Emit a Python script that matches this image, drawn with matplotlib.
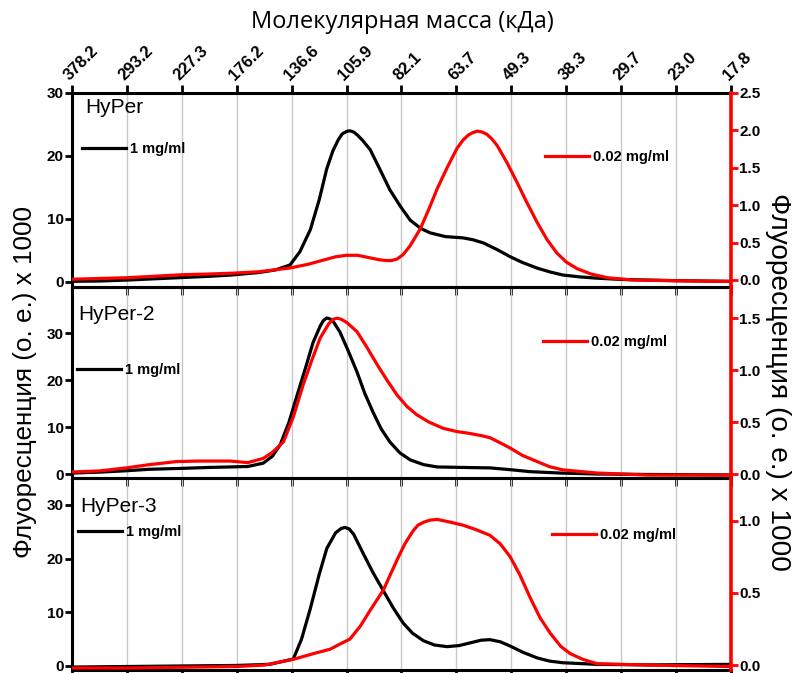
import matplotlib
matplotlib.use('Agg')
import matplotlib.pyplot as plt

plt.rcParams['font.family'] = ['Liberation Sans', 'DejaVu Sans']
plt.rcParams['font.weight'] = 'bold'

# top axis: molecular mass (kDa) at evenly spaced positions 0..12
mass_labels = ['378.2', '293.2', '227.3', '176.2', '136.6', '105.9', '82.1',
               '63.7', '49.3', '38.3', '29.7', '23.0', '17.8']

panel_names = ['HyPer', 'HyPer-2', 'HyPer-3']

# HyPer, 1 mg/ml (left axis)
hyper_black_x = [0.0, 0.5, 1.0, 1.5, 2.0, 2.5, 2.9, 3.4, 3.7, 3.97, 4.15, 4.34, 4.5, 4.64,
                 4.75, 4.85, 4.92, 5.0, 5.06, 5.13, 5.2, 5.3, 5.43, 5.6, 5.79, 5.98, 6.16,
                 6.35, 6.52, 6.8, 7.12, 7.3, 7.49, 7.75, 7.98, 8.2, 8.47, 8.7, 8.94, 9.25,
                 9.56, 10.0, 10.5, 11.0, 11.5, 12.0]
hyper_black = [0.1, 0.15, 0.3, 0.5, 0.7, 0.9, 1.1, 1.5, 1.9, 2.7, 4.8, 8.3, 13.0, 18.0,
               20.8, 22.6, 23.5, 23.9, 24.0, 23.8, 23.3, 22.4, 21.0, 18.0, 14.6, 12.0,
               9.8, 8.5, 7.8, 7.2, 7.0, 6.7, 6.2, 5.1, 4.0, 3.1, 2.2, 1.6, 1.1, 0.8, 0.6,
               0.4, 0.3, 0.2, 0.15, 0.1]

# HyPer, 0.02 mg/ml (right axis)
hyper_red_x = [0.0, 0.5, 1.0, 1.5, 2.0, 2.5, 2.9, 3.4, 3.97, 4.3, 4.6, 4.8, 5.0, 5.2, 5.4,
               5.6, 5.72, 5.82, 5.92, 6.03, 6.15, 6.34, 6.5, 6.65, 6.83, 7.01, 7.12, 7.22,
               7.3, 7.38, 7.46, 7.55, 7.64, 7.74, 7.92, 8.1, 8.28, 8.47, 8.65, 8.83, 9.0,
               9.2, 9.45, 9.75, 10.2, 11.0, 12.0]
hyper_red = [0.01, 0.02, 0.03, 0.05, 0.07, 0.08, 0.09, 0.11, 0.16, 0.21, 0.27, 0.31, 0.33,
             0.33, 0.30, 0.27, 0.26, 0.26, 0.28, 0.34, 0.45, 0.68, 0.95, 1.22, 1.50, 1.76,
             1.87, 1.94, 1.97, 1.99, 1.98, 1.95, 1.89, 1.80, 1.57, 1.31, 1.04, 0.77, 0.54,
             0.36, 0.24, 0.15, 0.08, 0.03, 0.0, -0.01, -0.02]

# HyPer-2, 1 mg/ml
hyper2_black_x = [0.0, 0.5, 1.0, 1.4, 2.0, 2.5, 2.88, 3.2, 3.48, 3.65, 3.79, 3.95, 4.1,
                  4.25, 4.39, 4.52, 4.58, 4.64, 4.7, 4.76, 4.88, 5.03, 5.19, 5.33, 5.48,
                  5.63, 5.79, 5.97, 6.16, 6.4, 6.65, 7.1, 7.61, 8.0, 8.34, 8.9, 9.56, 10.5,
                  12.0]
hyper2_black = [0.2, 0.4, 0.7, 1.0, 1.2, 1.4, 1.5, 1.6, 2.3, 3.8, 6.2, 11.0, 16.8, 22.5,
                28.0, 31.5, 32.7, 33.2, 33.0, 32.4, 30.2, 26.2, 21.7, 17.2, 13.2, 9.6, 6.8,
                4.5, 3.0, 2.0, 1.5, 1.4, 1.3, 0.9, 0.5, 0.2, 0.0, -0.1, -0.2]

# HyPer-2, 0.02 mg/ml
hyper2_red_x = [0.0, 0.5, 1.0, 1.4, 1.9, 2.3, 2.88, 3.2, 3.48, 3.65, 3.85, 4.03, 4.21,
                4.37, 4.52, 4.68, 4.76, 4.83, 4.9, 5.0, 5.19, 5.37, 5.56, 5.74, 5.92, 6.1,
                6.28, 6.5, 6.76, 7.0, 7.25, 7.45, 7.61, 7.8, 7.98, 8.2, 8.47, 8.7, 8.94,
                9.56, 10.5, 12.0]
hyper2_red = [0.02, 0.03, 0.06, 0.09, 0.12, 0.125, 0.125, 0.11, 0.15, 0.21, 0.31, 0.55,
              0.86, 1.10, 1.31, 1.45, 1.49, 1.50, 1.49, 1.46, 1.37, 1.22, 1.05, 0.90,
              0.76, 0.65, 0.57, 0.50, 0.44, 0.41, 0.39, 0.37, 0.35, 0.30, 0.25, 0.18,
              0.12, 0.07, 0.04, 0.01, -0.01, -0.01]

# HyPer-3, 1 mg/ml
hyper3_black_x = [0.0, 1.0, 2.0, 3.0, 3.6, 4.03, 4.18, 4.34, 4.5, 4.64, 4.8, 4.9, 4.97,
                  5.05, 5.13, 5.3, 5.48, 5.67, 5.85, 6.03, 6.2, 6.4, 6.6, 6.83, 7.05, 7.25,
                  7.45, 7.61, 7.8, 7.98, 8.2, 8.47, 8.7, 8.94, 9.56, 10.5, 12.0]
hyper3_black = [-0.2, -0.1, 0.0, 0.1, 0.3, 1.3, 5.0, 10.7, 17.0, 21.9, 24.8, 25.6, 25.8,
                25.5, 24.5, 21.0, 17.4, 14.0, 10.8, 8.0, 6.1, 4.7, 3.9, 3.6, 3.8, 4.3, 4.8,
                4.9, 4.5, 3.7, 2.6, 1.5, 0.9, 0.6, 0.3, 0.2, 0.3]

# HyPer-3, 0.02 mg/ml
hyper3_red_x = [0.0, 1.0, 2.0, 3.0, 3.5, 4.03, 4.4, 4.7, 4.9, 5.06, 5.25, 5.43, 5.55,
                5.67, 5.8, 5.92, 6.06, 6.21, 6.3, 6.4, 6.52, 6.65, 6.9, 7.12, 7.35, 7.61,
                7.8, 7.98, 8.15, 8.34, 8.52, 8.71, 8.9, 9.07, 9.3, 9.56, 10.5, 12.0]
hyper3_red = [-0.02, -0.02, -0.015, -0.01, 0.0, 0.04, 0.08, 0.11, 0.15, 0.18, 0.27, 0.38,
              0.45, 0.52, 0.63, 0.73, 0.84, 0.93, 0.97, 0.99, 1.005, 1.01, 0.99, 0.97,
              0.94, 0.90, 0.84, 0.75, 0.63, 0.47, 0.33, 0.22, 0.13, 0.08, 0.04, 0.01,
              0.0, -0.01]

black_series = [(hyper_black_x, hyper_black), (hyper2_black_x, hyper2_black),
                (hyper3_black_x, hyper3_black)]
red_series = [(hyper_red_x, hyper_red), (hyper2_red_x, hyper2_red),
              (hyper3_red_x, hyper3_red)]

left_lims = [(-0.8, 30), (-0.85, 39.8), (-0.75, 35.0)]
right_lims = [(-0.094, 2.5), (-0.038, 1.80), (-0.034, 1.297)]
right_ticks = [[0.0, 0.5, 1.0, 1.5, 2.0, 2.5], [0.0, 0.5, 1.0, 1.5], [0.0, 0.5, 1.0]]

# legend / label placement in axes fractions
black_leg_pos = [(0.015, 0.711), (0.008, 0.565), (0.009, 0.719)]
red_leg_pos = [(0.718, 0.670), (0.715, 0.712), (0.728, 0.703)]
name_pos = [(0.02, 0.897), (0.009, 0.827), (0.012, 0.823)]

RED = '#ff0000'
W, H = 796, 673
fig = plt.figure(figsize=(W / 100, H / 100), dpi=100)
fig.patch.set_facecolor('white')

left_px, right_px = 72, 731
panel_px = [(93, 287), (287, 478), (478, 670)]

tick_font = 11
for i in range(3):
    top, bot = panel_px[i]
    ax = fig.add_axes([left_px / W, 1 - bot / H, (right_px - left_px) / W, (bot - top) / H])
    ax.patch.set_visible(False)
    tw = ax.twinx()
    tw.patch.set_visible(False)

    for x in range(13):
        ax.axvline(x, color='#c8c8c8', lw=1.0, zorder=0)

    bx, by = black_series[i]
    rx, ry = red_series[i]
    lb, = ax.plot(bx, by, color='black', lw=2.3, zorder=3)
    lr, = tw.plot(rx, ry, color=RED, lw=2.3, zorder=3)

    ax.set_xlim(0, 12)
    ax.set_ylim(*left_lims[i])
    tw.set_ylim(*right_lims[i])
    ax.set_yticks([0, 10, 20, 30])
    tw.set_yticks(right_ticks[i])
    ax.set_yticklabels(['0', '10', '20', '30'], fontsize=tick_font)
    tw.set_yticklabels(['%.1f' % v for v in right_ticks[i]], fontsize=tick_font)
    ax.set_xticks(range(13))

    for s in ['left', 'top', 'bottom']:
        ax.spines[s].set_linewidth(2.2)
        ax.spines[s].set_color('black')
    ax.spines['right'].set_visible(False)
    for s in ['left', 'top', 'bottom']:
        tw.spines[s].set_visible(False)
    tw.spines['right'].set_color(RED)
    tw.spines['right'].set_linewidth(2.6)

    ax.tick_params(axis='y', direction='out', length=5, width=2, pad=1)
    tw.tick_params(axis='y', direction='out', length=5, width=2, color=RED, pad=1,
                   labelcolor='black')
    if i == 0:
        ax.tick_params(axis='x', top=True, labeltop=True, bottom=True, labelbottom=False,
                       direction='out', length=6, width=2, pad=1)
        ax.set_xticklabels(mass_labels, fontsize=12, rotation=45, ha='left',
                           va='bottom', rotation_mode='anchor')
    else:
        ax.tick_params(axis='x', top=False, labeltop=False, bottom=True,
                       labelbottom=False, direction='out', length=6, width=2)

    ax.text(name_pos[i][0], name_pos[i][1], panel_names[i], transform=ax.transAxes,
            fontsize=15, fontweight='normal', ha='left', va='baseline')

    leg_kw = dict(loc='center left', frameon=False, borderpad=0, borderaxespad=0,
                  handlelength=3.0, handletextpad=0.3, prop={'size': 10.5, 'weight': 'bold'})
    ax.legend([lb], ['1 mg/ml'], bbox_to_anchor=black_leg_pos[i], **leg_kw)
    tw.legend([lr], ['0.02 mg/ml'], bbox_to_anchor=red_leg_pos[i], **leg_kw)

fig.text(0.505, 0.967, 'Молекулярная масса (кДа)', ha='center', va='center',
         fontsize=17, fontweight='normal', family=['Open Sans', 'DejaVu Sans'])
fig.text(0.031, 0.432, 'Флуоресценция (о. е.) x 1000', ha='center', va='center',
         rotation=90, fontsize=18.8, fontweight='normal')
fig.text(0.977, 0.432, 'Флуоресценция (о. е.) x 1000', ha='center', va='center',
         rotation=270, fontsize=20.2, fontweight='normal')

fig.savefig('out.png', dpi=100)
